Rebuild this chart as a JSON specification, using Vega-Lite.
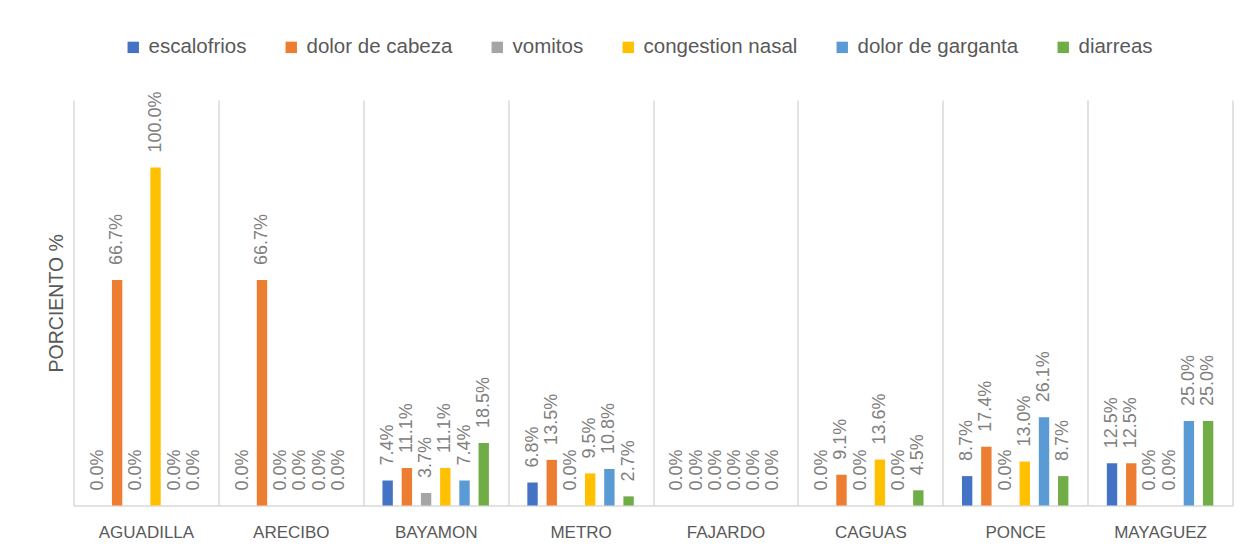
{
  "$schema": "https://vega.github.io/schema/vega-lite/v6.json",
  "width": 1159,
  "height": 405.5,
  "autosize": {"type": "none"},
  "padding": {"left": 73.5, "top": 100, "right": 25.5, "bottom": 48.5},
  "background": "white",
  "config": {"view": {"stroke": null}, "font": "Liberation Sans"},
  "data": {
    "values": [
      {"region": "AGUADILLA", "symptom": "escalofrios", "value": 0.0},
      {"region": "AGUADILLA", "symptom": "dolor de cabeza", "value": 0.667},
      {"region": "AGUADILLA", "symptom": "vomitos", "value": 0.0},
      {"region": "AGUADILLA", "symptom": "congestion nasal", "value": 1.0},
      {"region": "AGUADILLA", "symptom": "dolor de garganta", "value": 0.0},
      {"region": "AGUADILLA", "symptom": "diarreas", "value": 0.0},
      {"region": "ARECIBO", "symptom": "escalofrios", "value": 0.0},
      {"region": "ARECIBO", "symptom": "dolor de cabeza", "value": 0.667},
      {"region": "ARECIBO", "symptom": "vomitos", "value": 0.0},
      {"region": "ARECIBO", "symptom": "congestion nasal", "value": 0.0},
      {"region": "ARECIBO", "symptom": "dolor de garganta", "value": 0.0},
      {"region": "ARECIBO", "symptom": "diarreas", "value": 0.0},
      {"region": "BAYAMON", "symptom": "escalofrios", "value": 0.074},
      {"region": "BAYAMON", "symptom": "dolor de cabeza", "value": 0.111},
      {"region": "BAYAMON", "symptom": "vomitos", "value": 0.037},
      {"region": "BAYAMON", "symptom": "congestion nasal", "value": 0.111},
      {"region": "BAYAMON", "symptom": "dolor de garganta", "value": 0.074},
      {"region": "BAYAMON", "symptom": "diarreas", "value": 0.185},
      {"region": "METRO", "symptom": "escalofrios", "value": 0.068},
      {"region": "METRO", "symptom": "dolor de cabeza", "value": 0.135},
      {"region": "METRO", "symptom": "vomitos", "value": 0.0},
      {"region": "METRO", "symptom": "congestion nasal", "value": 0.095},
      {"region": "METRO", "symptom": "dolor de garganta", "value": 0.108},
      {"region": "METRO", "symptom": "diarreas", "value": 0.027},
      {"region": "FAJARDO", "symptom": "escalofrios", "value": 0.0},
      {"region": "FAJARDO", "symptom": "dolor de cabeza", "value": 0.0},
      {"region": "FAJARDO", "symptom": "vomitos", "value": 0.0},
      {"region": "FAJARDO", "symptom": "congestion nasal", "value": 0.0},
      {"region": "FAJARDO", "symptom": "dolor de garganta", "value": 0.0},
      {"region": "FAJARDO", "symptom": "diarreas", "value": 0.0},
      {"region": "CAGUAS", "symptom": "escalofrios", "value": 0.0},
      {"region": "CAGUAS", "symptom": "dolor de cabeza", "value": 0.091},
      {"region": "CAGUAS", "symptom": "vomitos", "value": 0.0},
      {"region": "CAGUAS", "symptom": "congestion nasal", "value": 0.136},
      {"region": "CAGUAS", "symptom": "dolor de garganta", "value": 0.0},
      {"region": "CAGUAS", "symptom": "diarreas", "value": 0.045},
      {"region": "PONCE", "symptom": "escalofrios", "value": 0.087},
      {"region": "PONCE", "symptom": "dolor de cabeza", "value": 0.174},
      {"region": "PONCE", "symptom": "vomitos", "value": 0.0},
      {"region": "PONCE", "symptom": "congestion nasal", "value": 0.13},
      {"region": "PONCE", "symptom": "dolor de garganta", "value": 0.261},
      {"region": "PONCE", "symptom": "diarreas", "value": 0.087},
      {"region": "MAYAGUEZ", "symptom": "escalofrios", "value": 0.125},
      {"region": "MAYAGUEZ", "symptom": "dolor de cabeza", "value": 0.125},
      {"region": "MAYAGUEZ", "symptom": "vomitos", "value": 0.0},
      {"region": "MAYAGUEZ", "symptom": "congestion nasal", "value": 0.0},
      {"region": "MAYAGUEZ", "symptom": "dolor de garganta", "value": 0.25},
      {"region": "MAYAGUEZ", "symptom": "diarreas", "value": 0.25}
    ]
  },
  "encoding": {
    "x": {
      "field": "region",
      "type": "nominal",
      "sort": ["AGUADILLA", "ARECIBO", "BAYAMON", "METRO", "FAJARDO", "CAGUAS", "PONCE", "MAYAGUEZ"],
      "scale": {"paddingInner": 0, "paddingOuter": 0},
      "axis": {
        "title": null,
        "labelAngle": 0,
        "labelFontSize": 17,
        "labelColor": "#595959",
        "labelPadding": 19,
        "ticks": false,
        "grid": true,
        "tickBand": "extent",
        "gridColor": "#d9d9d9",
        "gridWidth": 1.5,
        "domainColor": "#d9d9d9",
        "domainWidth": 1.5
      }
    },
    "xOffset": {
      "field": "symptom",
      "type": "nominal",
      "sort": ["escalofrios", "dolor de cabeza", "vomitos", "congestion nasal", "dolor de garganta", "diarreas"],
      "scale": {"paddingInner": 0.46, "paddingOuter": 1.15}
    },
    "y": {
      "field": "value",
      "type": "quantitative",
      "scale": {"domain": [0, 1.2], "nice": false},
      "axis": {
        "title": "PORCIENTO %",
        "labels": false,
        "ticks": false,
        "domain": false,
        "grid": false,
        "titleFontSize": 19.5,
        "titleFontWeight": "normal",
        "titleColor": "#595959",
        "titlePadding": 7
      }
    }
  },
  "layer": [
    {
      "mark": {"type": "bar"},
      "encoding": {
        "color": {
          "field": "symptom",
          "type": "nominal",
          "scale": {
            "domain": ["escalofrios", "dolor de cabeza", "vomitos", "congestion nasal", "dolor de garganta", "diarreas"],
            "range": ["#4472C4", "#ED7D31", "#A5A5A5", "#FFC000", "#5B9BD5", "#70AD47"]
          },
          "legend": {
            "title": null,
            "orient": "none",
            "direction": "horizontal",
            "legendX": 49.5,
            "legendY": -63,
            "symbolType": "square",
            "symbolSize": 130,
            "symbolStrokeWidth": 0,
            "labelFontSize": 20.5,
            "labelColor": "#595959",
            "labelOffset": 5,
            "labelLimit": 400,
            "columnPadding": 34
          }
        }
      }
    },
    {
      "mark": {
        "type": "text",
        "angle": 270,
        "align": "left",
        "baseline": "middle",
        "dx": 15,
        "fontSize": 18,
        "color": "#808080"
      },
      "encoding": {
        "text": {"field": "value", "type": "quantitative", "format": ".1%"}
      }
    }
  ]
}
